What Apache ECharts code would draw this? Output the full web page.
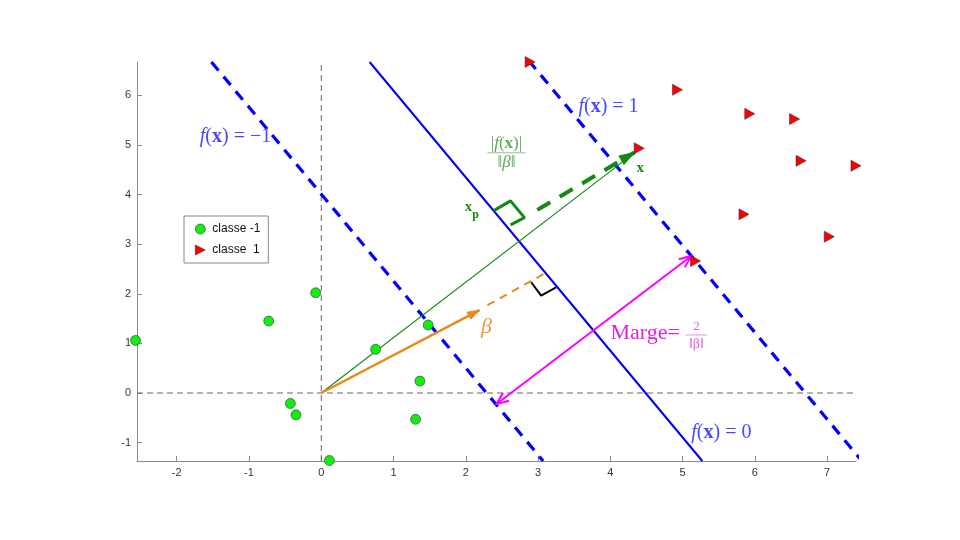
<!DOCTYPE html>
<html><head><meta charset="utf-8">
<script src="https://cdn.jsdelivr.net/npm/echarts@6/dist/echarts.min.js"></script>
<style>html,body{margin:0;padding:0;background:#fff}#c{width:960px;height:540px}</style>
</head><body><div id="c"></div>
<script>
// ---------- data ----------
const xTicks = [-2, -1, 0, 1, 2, 3, 4, 5, 6, 7];
const yTicks = [-1, 0, 1, 2, 3, 4, 5, 6];
const xRange = [-2.55, 7.4];
const yRange = [-1.37, 6.67];
const classNegName = 'classe -1';
const classPosName = 'classe  1';
const classNeg = [[-2.57, 1.06], [-0.727, 1.45], [-0.077, 2.02], [-0.428, -0.21], [-0.35, -0.44],
                  [0.112, -1.36], [0.752, 0.88], [1.48, 1.37], [1.365, 0.24], [1.305, -0.53]];
const classPos = [[2.89, 6.67], [4.93, 6.11], [5.93, 5.625], [6.55, 5.52], [4.40, 4.93],
                  [6.64, 4.68], [7.40, 4.58], [5.85, 3.60], [7.03, 3.15], [5.18, 2.66]];
const zeroH = [[-2.55, 0], [7.45, 0]];
const zeroV = [[0, -1.37], [0, 6.67]];
const marginNeg = [[-1.52, 6.67], [3.07, -1.37]];
const hyperplane = [[0.669, 6.67], [5.273, -1.37]];
const marginPos = [[2.87, 6.70], [7.47, -1.35]];
const xVector = [[0, 0], [4.333, 4.839]];
const distVector = [[2.99, 3.69], [4.333, 4.845]];
const betaVector = [[0, 0], [2.19, 1.67]];
const betaExt = [[2.30, 1.77], [3.13, 2.44]];
const rightAngleGreen = [[2.388, 3.675], [2.619, 3.871], [2.812, 3.534], [2.619, 3.387]];
const rightAngleBlack = [[2.905, 2.232], [3.043, 1.962], [3.25, 2.131]];
const marginArrow = [[2.425, -0.222], [5.121, 2.762]];

// ---------- styles ----------
const serif = '"Liberation Serif", "DejaVu Serif", serif';
const sans = '"Liberation Sans", Arial, sans-serif';
const BLUE = '#0000ff', GREEN = '#138a13', ORANGE = '#e8891c', MAGENTA = '#ff00ff';

function seg(data, color, width, type, z) {
  return { type: 'line', data: data, symbol: 'none', clip: false, silent: true, animation: false,
    z: z || 2, lineStyle: { color: color, width: width, type: type || 'solid', cap: 'butt' } };
}
function headSeries(vec, len, half, color, filled, lw) {
  return { type: 'custom', coordinateSystem: 'cartesian2d', clip: false, silent: true, animation: false, z: 3,
    data: [[vec[0][0], vec[0][1], vec[1][0], vec[1][1]]],
    renderItem: function (p, api) {
      const a = api.coord([api.value(0), api.value(1)]);
      const b = api.coord([api.value(2), api.value(3)]);
      const dx = b[0] - a[0], dy = b[1] - a[1], L = Math.hypot(dx, dy);
      const ux = dx / L, uy = dy / L;
      const bx = b[0] - ux * len, by = b[1] - uy * len;
      const pts = [[bx - uy * half, by + ux * half], [b[0], b[1]], [bx + uy * half, by - ux * half]];
      if (filled) return { type: 'polygon', shape: { points: pts }, style: { fill: color, stroke: color, lineWidth: 1 } };
      return { type: 'polyline', shape: { points: pts }, style: { stroke: color, fill: null, lineWidth: lw } };
    } };
}
function labelSeries(pos, build) {
  return { type: 'custom', coordinateSystem: 'cartesian2d', clip: false, silent: true, animation: false, z: 10,
    data: [pos],
    renderItem: function (p, api) { return build(api.coord([api.value(0), api.value(1)])); } };
}
function fLabel(rhs, color) {
  return function (c) {
    const base = { fontFamily: serif, fontSize: 20, fill: color };
    return { type: 'text', x: c[0], y: c[1], style: {
      text: '{i|f}{n|(}{b|x}{n|)\u2005=\u2005' + rhs + '}',
      align: 'left', verticalAlign: 'middle',
      rich: { i: Object.assign({ fontStyle: 'italic' }, base), n: base, b: Object.assign({ fontWeight: 'bold' }, base) } } };
  };
}
const reversed = v => [v[1], v[0]];

const option = {
  animation: false,
  backgroundColor: '#ffffff',
  grid: { left: 137, right: 104, top: 62, bottom: 79 },
  xAxis: {
    type: 'value', min: xRange[0], max: xRange[1],
    axisLine: { show: true, onZero: false, lineStyle: { color: '#8a8a8a', width: 1 } },
    axisTick: { show: true, inside: true, length: 5, customValues: xTicks, lineStyle: { color: '#8a8a8a' } },
    axisLabel: { customValues: xTicks, color: '#333', fontSize: 11, fontFamily: sans, margin: 6 },
    splitLine: { show: false }
  },
  yAxis: {
    type: 'value', min: yRange[0], max: yRange[1],
    axisLine: { show: true, onZero: false, lineStyle: { color: '#8a8a8a', width: 1 } },
    axisTick: { show: true, inside: true, length: 5, customValues: yTicks, lineStyle: { color: '#8a8a8a' } },
    axisLabel: { customValues: yTicks, color: '#333', fontSize: 11, fontFamily: sans, margin: 6 },
    splitLine: { show: false }
  },
  legend: {
    data: [
      { name: classNegName, icon: 'circle', itemStyle: { borderWidth: 0.6, borderColor: '#333' } },
      { name: classPosName, icon: 'path://M0,0 L10,5 L0,10 Z', itemStyle: { borderWidth: 0.6, borderColor: '#333' } }
    ],
    orient: 'vertical', left: 184, top: 216,
    padding: [7, 8, 7, 11], itemGap: 9, itemWidth: 10, itemHeight: 10,
    borderColor: '#888', borderWidth: 1, backgroundColor: '#fff',
    textStyle: { fontSize: 12, fontFamily: sans, color: '#111', padding: [0, 0, 0, 2] }
  },
  series: [
    seg(zeroH, '#666', 1, [6, 4]),
    seg(zeroV, '#666', 1, [6, 4]),
    seg(marginNeg, BLUE, 3.2, [11, 8]),
    seg(hyperplane, BLUE, 2),
    seg(marginPos, BLUE, 3.2, [11, 8]),
    seg(xVector, GREEN, 1.2),
    seg(distVector, GREEN, 4, [15, 11]),
    seg(rightAngleGreen, GREEN, 3),
    seg(betaExt, ORANGE, 2, [8, 6]),
    seg(betaVector, ORANGE, 2.5),
    seg(rightAngleBlack, '#000', 2),
    seg(marginArrow, MAGENTA, 2),
    headSeries(distVector, 15, 5, GREEN, true),
    headSeries(betaVector, 12, 4, ORANGE, true),
    headSeries(marginArrow, 12, 5, MAGENTA, false, 2),
    headSeries(reversed(marginArrow), 12, 5, MAGENTA, false, 2),
    { name: classNegName, type: 'scatter', data: classNeg, symbol: 'circle', symbolSize: 10, clip: false, z: 5,
      itemStyle: { color: '#11ee11', borderColor: '#333', borderWidth: 0.6, opacity: 1 } },
    { name: classPosName, type: 'scatter', data: classPos, symbol: 'triangle', symbolRotate: -90, symbolSize: [11, 10], clip: false, z: 5,
      itemStyle: { color: '#ff0000', borderColor: '#333', borderWidth: 0.6, opacity: 1 } },
    labelSeries([-1.681, 5.16], fLabel('\u22121', '#4848ff')),
    labelSeries([3.559, 5.766], fLabel('1', '#4848ff')),
    labelSeries([5.121, -0.806], fLabel('0', '#4848ff')),
    labelSeries([2.563, 4.84], function (c) {
      const col = '#5aa85a', base = { fontFamily: serif, fontSize: 17, fill: col };
      return { type: 'group', x: c[0], y: c[1], children: [
        { type: 'text', x: 0, y: -9, style: { text: '{n||}{i|f}{n|(}{b|x}{n|)|}', align: 'center', verticalAlign: 'middle',
          rich: { i: Object.assign({ fontStyle: 'italic' }, base), n: base, b: Object.assign({ fontWeight: 'bold' }, base) } } },
        { type: 'line', shape: { x1: -19, y1: 0, x2: 19, y2: 0 }, style: { stroke: col, lineWidth: 0.7 } },
        { type: 'text', x: 0, y: 10, style: { text: '{n|\u2016}{i|\u03b2}{n|\u2016}', align: 'center', verticalAlign: 'middle',
          rich: { i: Object.assign({ fontStyle: 'italic' }, base), n: base } } }
      ] };
    }),
    labelSeries([4.416, 4.536], function (c) {
      return { type: 'text', x: c[0], y: c[1], style: { text: 'x', fontFamily: serif, fontWeight: 'bold', fontSize: 15, fill: GREEN, align: 'center', verticalAlign: 'middle' } };
    }),
    labelSeries([2.038, 3.75], function (c) {
      return { type: 'group', x: c[0], y: c[1], children: [
        { type: 'text', x: 0, y: 0, style: { text: 'x', fontFamily: serif, fontWeight: 'bold', fontSize: 14, fill: GREEN, align: 'center', verticalAlign: 'middle' } },
        { type: 'text', x: 7, y: 8, style: { text: 'p', fontFamily: serif, fontWeight: 'bold', fontSize: 12, fill: GREEN, align: 'center', verticalAlign: 'middle' } }
      ] };
    }),
    labelSeries([2.287, 1.331], function (c) {
      return { type: 'text', x: c[0], y: c[1], style: { text: '\u03b2', fontFamily: serif, fontStyle: 'italic', fontSize: 22, fill: '#eb9a3a', align: 'center', verticalAlign: 'middle' } };
    }),
    labelSeries([4.001, 1.21], function (c) {
      const col = '#dd22dd', fcol = '#e060e0';
      return { type: 'group', x: c[0], y: c[1], children: [
        { type: 'text', x: 0, y: 0, style: { text: 'Marge=', fontFamily: serif, fontSize: 22, fill: col, align: 'left', verticalAlign: 'middle' } },
        { type: 'text', x: 86, y: -6, style: { text: '2', fontFamily: serif, fontSize: 13, fill: fcol, align: 'center', verticalAlign: 'middle' } },
        { type: 'line', shape: { x1: 75, y1: 2, x2: 97, y2: 2 }, style: { stroke: fcol, lineWidth: 0.7 } },
        { type: 'text', x: 86, y: 11, style: { text: '\u2016\u03b2\u2016', fontFamily: serif, fontSize: 14, fill: fcol, align: 'center', verticalAlign: 'middle' } }
      ] };
    })
  ]
};
const chart = echarts.init(document.getElementById('c'), null, { renderer: 'canvas' });
chart.setOption(option);
</script>
</body></html>
